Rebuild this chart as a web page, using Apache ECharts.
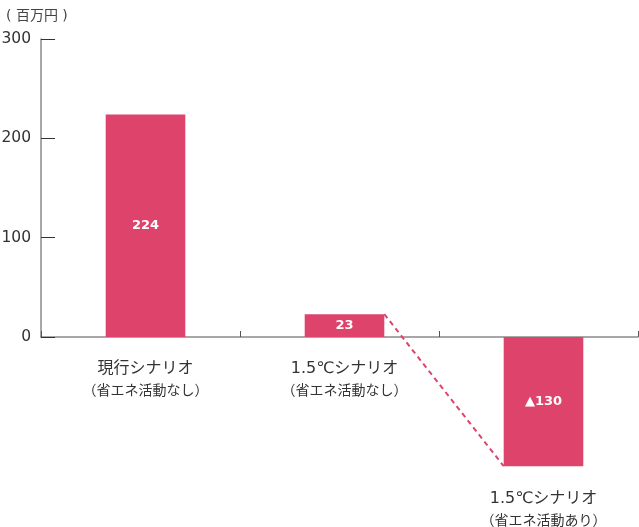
<!DOCTYPE html>
<html><head><meta charset="utf-8">
<script src="https://cdn.jsdelivr.net/npm/echarts@6/dist/echarts.min.js"></script>
<style>html,body{margin:0;padding:0;background:#fff}#c{width:639px;height:527px}</style>
</head><body><div id="c"></div>
<script>
const categories = ['現行シナリオ', '1.5℃シナリオ', '1.5℃シナリオ'];
const subLabels = ['（省エネ活動なし）', '（省エネ活動なし）', '（省エネ活動あり）'];
const values = [224, 23, -130];
const yTicks = [0, 100, 200, 300];
const unitLabel = '( 百万円 )';

const FONT = "'DejaVu Sans', 'Noto Sans CJK JP', sans-serif";
const PINK = '#dd436b';
const AXIS = '#8a8a8a';

const chart = echarts.init(document.getElementById('c'), null, {renderer: 'canvas'});
chart.setOption({
  animation: false,
  textStyle: {fontFamily: FONT},
  title: {text: unitLabel, left: 1, top: 4,
    textStyle: {fontSize: 14, fontWeight: 'normal', color: '#444', fontFamily: FONT}},
  grid: [
    {left: 41, right: 1, top: 39, bottom: 190, outerBoundsMode: 'none', containLabel: false},
    {left: 46, right: -4, top: 39, bottom: 190, outerBoundsMode: 'none', containLabel: false}
  ],
  xAxis: [
    {type: 'category', gridIndex: 0, data: categories,
      axisLine: {show: true, lineStyle: {color: AXIS, width: 1.5}},
      axisTick: {show: true, inside: true, length: 6, lineStyle: {color: '#555'}},
      axisLabel: {show: false}},
    {type: 'category', gridIndex: 1, data: categories,
      axisLine: {show: false}, axisTick: {show: false},
      axisLabel: {
        margin: 20, interval: 0,
        formatter: function (v, i) {
          const gap = values[i] < 0 ? '{g| }\n' : '';
          return gap + '{t|' + v + '}\n{s|' + subLabels[i] + '}';
        },
        rich: {
          g: {fontSize: 2, lineHeight: 130, color: 'transparent'},
          t: {fontSize: 16, lineHeight: 23, color: '#333', fontFamily: FONT},
          s: {fontSize: 14, lineHeight: 22, color: '#333', fontFamily: FONT}
        }
      }},
    {type: 'value', gridIndex: 1, min: -0.5, max: 2.5, show: false}
  ],
  yAxis: [
    {type: 'value', gridIndex: 0, min: yTicks[0], max: yTicks[yTicks.length - 1], interval: 100,
      axisLine: {show: true, lineStyle: {color: AXIS, width: 1.5}},
      axisTick: {show: true, inside: true, length: 14, lineStyle: {color: '#333'}},
      splitLine: {show: false},
      axisLabel: {fontSize: 15.5, color: '#333', margin: 10, fontFamily: FONT}},
    {type: 'value', gridIndex: 1, min: yTicks[0], max: yTicks[yTicks.length - 1], interval: 100, show: false}
  ],
  series: [
    {type: 'bar', xAxisIndex: 1, yAxisIndex: 1, data: values, barWidth: '40%', clip: false,
      itemStyle: {color: PINK},
      label: {show: true, position: 'inside', color: '#fff', fontSize: 13, fontWeight: 'bold', fontFamily: FONT,
        formatter: function (p) { return p.value < 0 ? '▲' + Math.abs(p.value) : String(p.value); }}},
    {type: 'line', xAxisIndex: 2, yAxisIndex: 1, clip: false, symbol: 'none',
      data: [[1.2, values[1]], [1.8, values[2]]],
      lineStyle: {color: PINK, width: 2, type: [5, 4]}}
  ]
});
</script></body></html>
